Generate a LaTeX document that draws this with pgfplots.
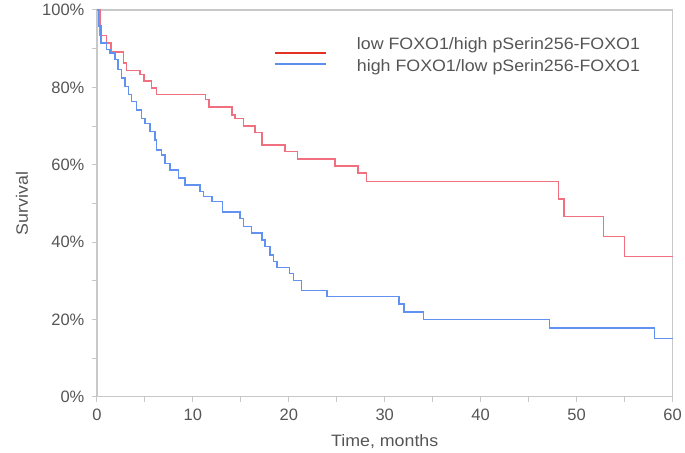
\documentclass[border=0pt]{standalone}
\usepackage{pgfplots}
\pgfplotsset{compat=1.18}
\usepackage{fontspec}
\setmainfont{Liberation Sans}
\newfontfamily\widefont[FakeStretch=1.08]{Liberation Sans}
\definecolor{curvered}{RGB}{240,112,128}
\definecolor{curveblue}{RGB}{98,146,240}
\definecolor{legred}{RGB}{226,50,36}
\definecolor{legblue}{RGB}{92,142,236}
\definecolor{axisgray}{RGB}{200,200,200}
\definecolor{txtgray}{RGB}{85,85,85}
\begin{document}
\begin{tikzpicture}
\path (-97pt,-55pt) rectangle (588pt,397pt);
\begin{axis}[
  at={(0pt,0pt)}, anchor=south west,
  scale only axis, width=576pt, height=387pt,
  xmin=0, xmax=60, ymin=0, ymax=100,
  xtick={0,10,...,60}, minor xtick={5,15,...,55},
  ytick={0,20,...,100}, minor ytick={10,30,...,90},
  yticklabels={0\%,20\%,40\%,60\%,80\%,100\%},
  /pgf/number format/assume math mode=true,
  tick align=outside, tick pos=left,
  major tick length=5pt, minor tick length=5pt,
  axis line style={draw=axisgray, line width=1.3pt},
  every tick/.style={draw=axisgray, line width=1pt},
  every minor tick/.style={draw=axisgray, line width=1pt},
  tick label style={font=\fontsize{16.5}{20}\selectfont, text=txtgray},
  yticklabel style={anchor=east, xshift=-4pt},
  xticklabel style={anchor=north, yshift=-4pt},
  label style={font=\widefont\fontsize{16.5}{20}\selectfont, text=txtgray},
  xlabel={Time, months},
  xlabel style={at={(axis description cs:0.5,-0.1292)}, anchor=base},
  ylabel={Survival},
  ylabel style={at={(axis description cs:-0.1302,0.5)}, anchor=center},
  clip=false,
]
\addplot[const plot, curvered, line width=1.5pt] coordinates {
(0,100)(0.3,93.4)(1.0,91.5)(1.46,89.1)(2.75,86.3)(3.1,84.4)(4.5,83.3)(4.9,81.6)(5.7,79.8)(6.2,78.1)(11.3,76.8)(11.7,74.9)(14.1,72.9)(14.4,72)(15.3,70)(16.5,68.3)(17.2,65.1)(19.6,63.4)(20.9,61.5)(24.8,59.7)(27.2,57.8)(28.1,55.7)(48.1,51.1)(48.7,46.6)(52.8,41.4)(55.0,36.2)(60,36.2)
};
\addplot[const plot, curveblue, line width=1.5pt] coordinates {
(0,100)(0.15,95.9)(0.4,91.5)(1.0,89.8)(1.36,88.9)(1.88,87.2)(2.22,84.6)(2.58,82.4)(2.92,80.2)(3.27,78.1)(3.62,76.4)(4.14,74.2)(4.66,72.0)(5.0,70.7)(5.53,68.6)(6.05,66.4)(6.23,63.8)(6.75,62.5)(7.1,60.3)(7.62,58.6)(8.48,56.5)(9.18,54.7)(10.75,53.0)(11.1,51.8)(12.0,50.5)(13.1,47.8)(14.9,46.1)(15.3,44.0)(16.1,42.3)(17.2,40.5)(17.5,38.8)(18.05,36.6)(18.4,35)(18.75,33.4)(20.1,31.8)(20.5,30.1)(21.3,27.5)(24.0,25.9)(31.5,24.0)(32.0,21.9)(34.05,19.9)(47.2,17.8)(58.1,15.0)(60,15.0)
};
\end{axis}
\draw[legred, line width=2.4pt] (178pt,344pt) -- (229pt,344pt);
\draw[legblue, line width=2.4pt] (178pt,333pt) -- (229pt,333pt);
\node[anchor=base west, inner sep=0pt, text=txtgray, font=\widefont\fontsize{16.5}{20}\selectfont] at (260pt,347pt) {low FOXO1/high pSerin256-FOXO1};
\node[anchor=base west, inner sep=0pt, text=txtgray, font=\widefont\fontsize{16.5}{20}\selectfont] at (260pt,325pt) {high FOXO1/low pSerin256-FOXO1};
\end{tikzpicture}
\end{document}
